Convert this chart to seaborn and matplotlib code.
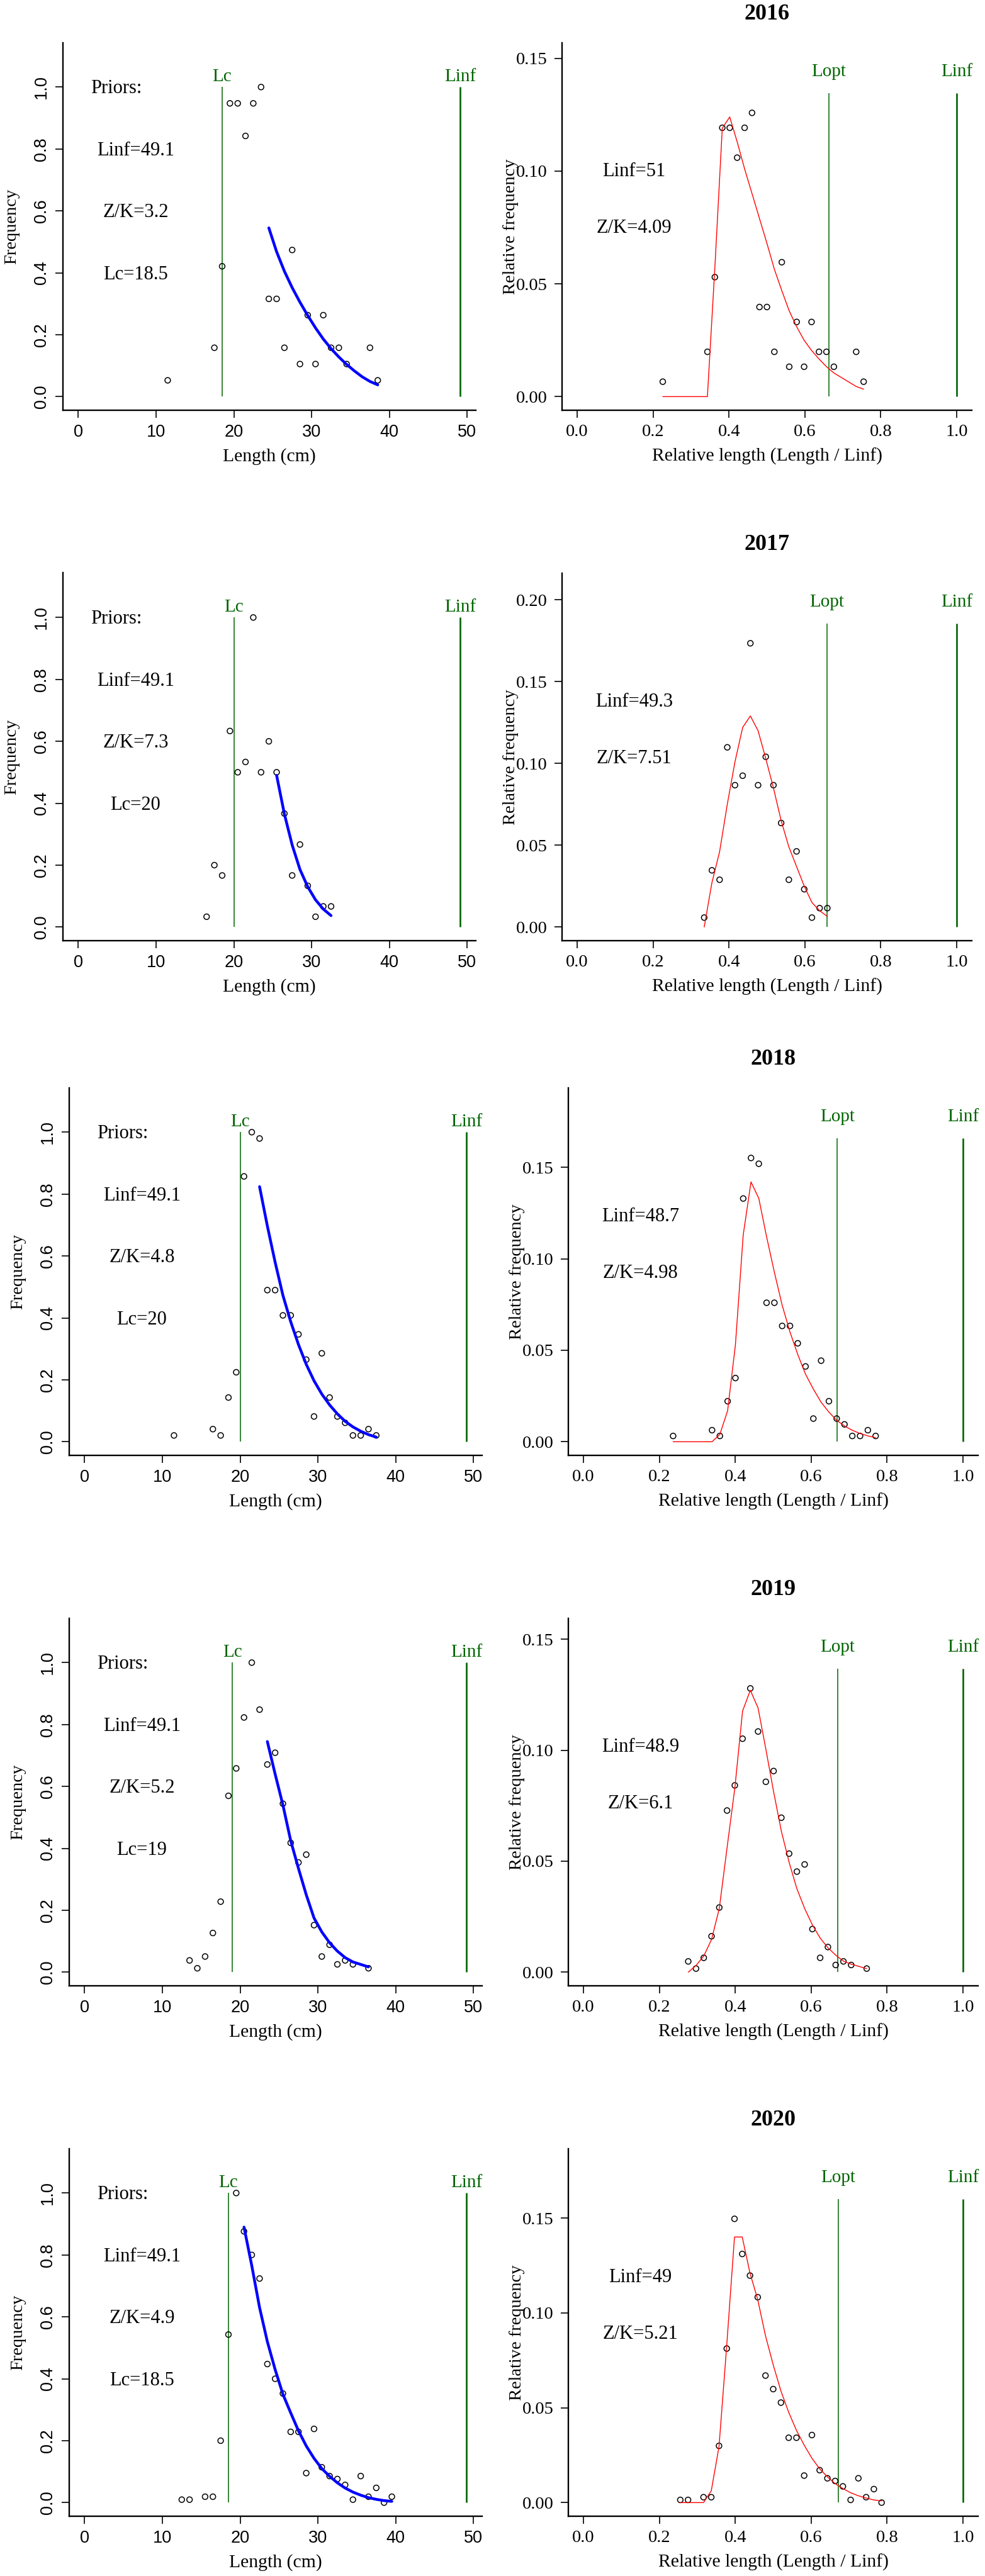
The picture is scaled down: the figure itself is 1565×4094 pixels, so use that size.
"""
Length-frequency plots by year, 2016-2020.
Left column: frequency (scaled to the largest class) with the priors.
Right column: relative frequency against Length / Linf with the fitted curve.
"""

import matplotlib
matplotlib.use("Agg")
import matplotlib.pyplot as plt
import numpy as np
import seaborn as sns

years = [2016, 2017, 2018, 2019, 2020]

# Priors (Linf is the same every year)
linf_prior = 49.1
lc_prior = [18.5, 20, 20, 19, 18.5]
zk_prior = [3.2, 7.3, 4.8, 5.2, 4.9]

# Estimates printed on the relative plots
linf_est = [51, 49.3, 48.7, 48.9, 49]
zk_est = [4.09, 7.51, 4.98, 6.1, 5.21]
lopt_rel = [0.663, 0.658, 0.669, 0.670, 0.671]

# Length classes (cm) and counts per class
len_2016 = [11.5, 17.5, 18.5, 19.5, 20.5, 21.5, 22.5, 23.5, 24.5, 25.5, 26.5,
            27.5, 28.5, 29.5, 30.5, 31.5, 32.5, 33.5, 34.5, 37.5, 38.5]
cnt_2016 = [1, 3, 8, 18, 18, 16, 18, 19, 6, 6, 3, 9, 2, 5, 2, 5, 3, 3, 2, 3, 1]

len_2017 = [16.5, 17.5, 18.5, 19.5, 20.5, 21.5, 22.5, 23.5, 24.5, 25.5, 26.5,
            27.5, 28.5, 29.5, 30.5, 31.5, 32.5]
cnt_2017 = [1, 6, 5, 19, 15, 16, 30, 15, 18, 15, 11, 5, 8, 4, 1, 2, 2]

len_2018 = [11.5, 16.5, 17.5, 18.5, 19.5, 20.5, 21.5, 22.5, 23.5, 24.5, 25.5,
            26.5, 27.5, 28.5, 29.5, 30.5, 31.5, 32.5, 33.5, 34.5, 35.5, 36.5,
            37.5]
cnt_2018 = [1, 2, 1, 7, 11, 42, 49, 48, 24, 24, 20, 20, 17, 13, 4, 14, 7, 4,
            3, 1, 1, 2, 1]

len_2019 = [13.5, 14.5, 15.5, 16.5, 17.5, 18.5, 19.5, 20.5, 21.5, 22.5, 23.5,
            24.5, 25.5, 26.5, 27.5, 28.5, 29.5, 30.5, 31.5, 32.5, 33.5, 34.5,
            36.5]
cnt_2019 = [3, 1, 4, 10, 18, 45, 52, 65, 79, 67, 53, 56, 43, 33, 28, 30, 12, 4,
            7, 2, 3, 2, 1]

len_2020 = [12.5, 13.5, 15.5, 16.5, 17.5, 18.5, 19.5, 20.5, 21.5, 22.5, 23.5,
            24.5, 25.5, 26.5, 27.5, 28.5, 29.5, 30.5, 31.5, 32.5, 33.5, 34.5,
            35.5, 36.5, 37.5, 38.5, 39.5]
cnt_2020 = [1, 1, 2, 2, 21, 57, 105, 92, 84, 76, 47, 42, 37, 24, 24, 10, 25,
            12, 9, 8, 6, 1, 9, 2, 5, 0, 2]

# Catch curve on the priors plot (blue)
fit_len_2016 = [24.5, 25.5, 26.5, 27.5, 28.5, 29.5, 30.5, 31.5, 32.5, 33.5,
                34.5, 35.5, 36.5, 37.5, 38.5]
fit_2016 = [0.545, 0.468, 0.405, 0.352, 0.305, 0.262, 0.222, 0.186, 0.155,
            0.128, 0.104, 0.083, 0.064, 0.049, 0.038]

fit_len_2017 = [25.5, 26.5, 27.5, 28.5, 29.5, 30.5, 31.5, 32.5]
fit_2017 = [0.49, 0.365, 0.265, 0.186, 0.13, 0.088, 0.058, 0.037]

fit_len_2018 = [22.5, 23.5, 24.5, 25.5, 26.5, 27.5, 28.5, 29.5, 30.5, 31.5,
                32.5, 33.5, 34.5, 35.5, 36.5, 37.5]
fit_2018 = [0.824, 0.697, 0.58, 0.473, 0.388, 0.314, 0.25, 0.197, 0.154,
            0.119, 0.09, 0.066, 0.048, 0.034, 0.023, 0.015]

fit_len_2019 = [23.5, 24.5, 25.5, 26.5, 27.5, 28.5, 29.5, 30.5, 31.5, 32.5,
                33.5, 34.5, 36.5]
fit_2019 = [0.745, 0.64, 0.54, 0.425, 0.335, 0.25, 0.175, 0.13, 0.095, 0.068,
            0.047, 0.033, 0.017]

fit_len_2020 = [20.5, 21.5, 22.5, 23.5, 24.5, 25.5, 26.5, 27.5, 28.5, 29.5,
                30.5, 31.5, 32.5, 33.5, 34.5, 35.5, 36.5, 37.5, 38.5, 39.5]
fit_2020 = [0.89, 0.765, 0.63, 0.52, 0.43, 0.35, 0.29, 0.232, 0.183, 0.143,
            0.11, 0.085, 0.064, 0.047, 0.034, 0.024, 0.016, 0.0105, 0.0065,
            0.004]

# Fitted relative frequency (red), one value per length class shown
rel_fit_2016 = [0, 0, 0.057, 0.119, 0.124, 0.113, 0.101, 0.090, 0.079, 0.068,
                0.0565, 0.047, 0.038, 0.031, 0.025, 0.0205, 0.0167, 0.0133,
                0.0105, 0.0045, 0.0033]
rel_fit_2017 = [0.0, 0.027, 0.046, 0.075, 0.101, 0.122, 0.129, 0.120, 0.103,
                0.085, 0.065, 0.049, 0.037, 0.025, 0.015, 0.010, 0.0065]
rel_fit_2018 = [0, 0, 0.004, 0.017, 0.053, 0.113, 0.142, 0.133, 0.112, 0.0926,
                0.0746, 0.060, 0.0477, 0.0369, 0.0288, 0.0216, 0.0162, 0.0117,
                0.0086, 0.0063, 0.0045, 0.0032, 0.0022]
rel_fit_2019 = [0, 0.003, 0.0073, 0.0147, 0.0287, 0.056, 0.0828, 0.1176, 0.127,
                0.119, 0.1005, 0.0813, 0.0635, 0.0495, 0.0376, 0.0287, 0.0213,
                0.0154, 0.011, 0.0077, 0.005, 0.0036, 0.0016]
# the 2020 relative plot stops at the 38.5 cm class
rel_fit_2020 = [0, 0, 0, 0.0062, 0.0295, 0.083, 0.140, 0.140, 0.121, 0.107,
                0.088, 0.0726, 0.0588, 0.0476, 0.0381, 0.0303, 0.0234, 0.0178,
                0.0136, 0.010, 0.0074, 0.0052, 0.0036, 0.0024, 0.0014, 0.0009]

lengths = [len_2016, len_2017, len_2018, len_2019, len_2020]
counts = [cnt_2016, cnt_2017, cnt_2018, cnt_2019, cnt_2020]
fit_lengths = [fit_len_2016, fit_len_2017, fit_len_2018, fit_len_2019,
               fit_len_2020]
fits = [fit_2016, fit_2017, fit_2018, fit_2019, fit_2020]
rel_fits = [rel_fit_2016, rel_fit_2017, rel_fit_2018, rel_fit_2019,
            rel_fit_2020]

# Page layout in pixels (figure is 1565 x 4094 at 100 dpi)
FIG_W, FIG_H = 1565, 4094
ROW_BOTTOM = [652, 1495, 2313, 3156, 3999]
ROW_SHIFT = [0, 0, 10, 10, 10]
AX_H = 584.5
GREEN = "#006400"
SANS = "Liberation Sans"


def put_text(ax, x, y, s, size=22, **kw):
    """Write text centred on (x, y) the way R does (cap height centred)."""
    ax.annotate(s, (x, y), xytext=(0, -0.33 * size),
                textcoords="offset points", ha="center", va="baseline",
                fontsize=size, **kw)


def style_axes(ax, width_px):
    """L-shaped box, outward ticks and axis labels position helpers."""
    ax.spines[["top", "right"]].set_visible(False)
    for side in ["left", "bottom"]:
        ax.spines[side].set_linewidth(1.7)
    ax.tick_params(direction="out", length=8.5, width=1.2, colors="black")
    ax.set_xlabel("")
    ax.set_ylabel("")


def plot_priors(ax, i):
    """Frequency scaled to the largest class, with the priors."""
    cnt = np.asarray(counts[i], dtype=float)
    freq = cnt / cnt.max()

    sns.scatterplot(x=lengths[i], y=freq, ax=ax, s=40, facecolor="none",
                    edgecolor="black", linewidth=1.1, zorder=3)
    sns.lineplot(x=fit_lengths[i], y=fits[i], ax=ax, color="#0000FF",
                 linewidth=3.2, estimator=None, sort=False, zorder=4)

    lc = lc_prior[i]
    ax.vlines(lc, 0, 1, color=GREEN, linewidth=1.1)
    ax.vlines(linf_prior, 0, 1, color=GREEN, linewidth=1.9)
    ax.text(lc, 1.02, "Lc", color=GREEN, ha="center", va="baseline",
            fontsize=21)
    ax.text(linf_prior, 1.02, "Linf", color=GREEN, ha="center",
            va="baseline", fontsize=21)

    put_text(ax, 0.1 * linf_prior, 1.0, "Priors:")
    put_text(ax, 0.15 * linf_prior, 0.8, f"Linf={linf_prior:g}")
    put_text(ax, 0.15 * linf_prior, 0.6, f"Z/K={zk_prior[i]:g}")
    put_text(ax, 0.15 * linf_prior, 0.4, f"Lc={lc:g}")

    ax.set_xlim(-0.04 * linf_prior, 1.04 * linf_prior)
    ax.set_ylim(-0.044, 1.144)
    style_axes(ax, 655.5)

    xt = [0, 10, 20, 30, 40, 50]
    ax.set_xticks(xt, labels=[str(v) for v in xt], fontfamily=SANS,
                  fontsize=19.5)
    yt = [0.0, 0.2, 0.4, 0.6, 0.8, 1.0]
    ax.set_yticks(yt, labels=[f"{v:.1f}" for v in yt], fontfamily=SANS,
                  fontsize=19.5, rotation=90, va="center")
    ax.tick_params(axis="x", pad=7)
    ax.tick_params(axis="y", pad=6.5)

    ax.text(0.5, -73.5 / AX_H, "Length (cm)", transform=ax.transAxes,
            ha="center", va="center", fontsize=21.4)
    ax.text(-81.5 / 655.5, 0.5, "Frequency", transform=ax.transAxes,
            ha="center", va="center", rotation=90, fontsize=20.5)


def plot_relative(ax, i):
    """Relative frequency against relative length with the fitted curve."""
    n = len(rel_fits[i])
    cnt = np.asarray(counts[i][:n], dtype=float)
    rel = cnt / cnt.sum()
    x = np.asarray(lengths[i][:n]) / linf_est[i]
    peak = rel.max()
    top = 1.2 * peak

    sns.scatterplot(x=x, y=rel, ax=ax, s=40, facecolor="none",
                    edgecolor="black", linewidth=1.1, zorder=3)
    sns.lineplot(x=x, y=rel_fits[i], ax=ax, color="#FF0000", linewidth=1.0,
                 estimator=None, sort=False, zorder=4)

    ax.vlines(lopt_rel[i], 0, 1.07 * peak, color=GREEN, linewidth=1.1)
    ax.vlines(1.0, 0, 1.07 * peak, color=GREEN, linewidth=1.9)
    ax.text(lopt_rel[i], 1.13 * peak, "Lopt", color=GREEN, ha="center",
            va="baseline", fontsize=21)
    ax.text(1.0, 1.13 * peak, "Linf", color=GREEN, ha="center",
            va="baseline", fontsize=21)

    put_text(ax, 0.15, 0.8 * peak, f"Linf={linf_est[i]:g}")
    put_text(ax, 0.15, 0.6 * peak, f"Z/K={zk_est[i]:g}")

    ax.set_xlim(-0.04, 1.04)
    ax.set_ylim(-0.04 * top, 1.04 * top)
    style_axes(ax, 651)

    xt = [0.0, 0.2, 0.4, 0.6, 0.8, 1.0]
    ax.set_xticks(xt, labels=[f"{v:.1f}" for v in xt], fontsize=20.5)
    yt = np.arange(0, top, 0.05)
    ax.set_yticks(yt, labels=[f"{v:.2f}" for v in yt], fontsize=20.5)
    ax.tick_params(axis="x", pad=7)
    ax.tick_params(axis="y", pad=8)

    ax.text(0.5, -73.5 / AX_H, "Relative length (Length / Linf)",
            transform=ax.transAxes, ha="center", va="center", fontsize=21.4)
    ax.text(-82 / 651, 0.5, "Relative frequency", transform=ax.transAxes,
            ha="center", va="center", rotation=90, fontsize=20.5)
    ax.text(0.5, 1 + 45 / AX_H, str(years[i]), transform=ax.transAxes,
            ha="center", va="center", fontsize=26, fontweight="bold")


def main():
    """Build the five rows of plots and save them."""
    sns.set_theme(style="ticks", rc={
        "axes.edgecolor": "black", "text.color": "black",
        "xtick.color": "black", "ytick.color": "black",
        "axes.labelcolor": "black",
    })
    plt.rcParams["font.family"] = ["Liberation Serif", "DejaVu Serif"]

    fig = plt.figure(figsize=(FIG_W / 100, FIG_H / 100), dpi=100)
    for i in range(len(years)):
        bottom = 1 - ROW_BOTTOM[i] / FIG_H
        ax_l = fig.add_axes([(100 + ROW_SHIFT[i]) / FIG_W, bottom,
                             655.5 / FIG_W, AX_H / FIG_H])
        ax_r = fig.add_axes([(893 + ROW_SHIFT[i]) / FIG_W, bottom,
                             651 / FIG_W, AX_H / FIG_H])
        plot_priors(ax_l, i)
        plot_relative(ax_r, i)

    fig.savefig("out.png", dpi=100, facecolor="white")


if __name__ == "__main__":
    main()
